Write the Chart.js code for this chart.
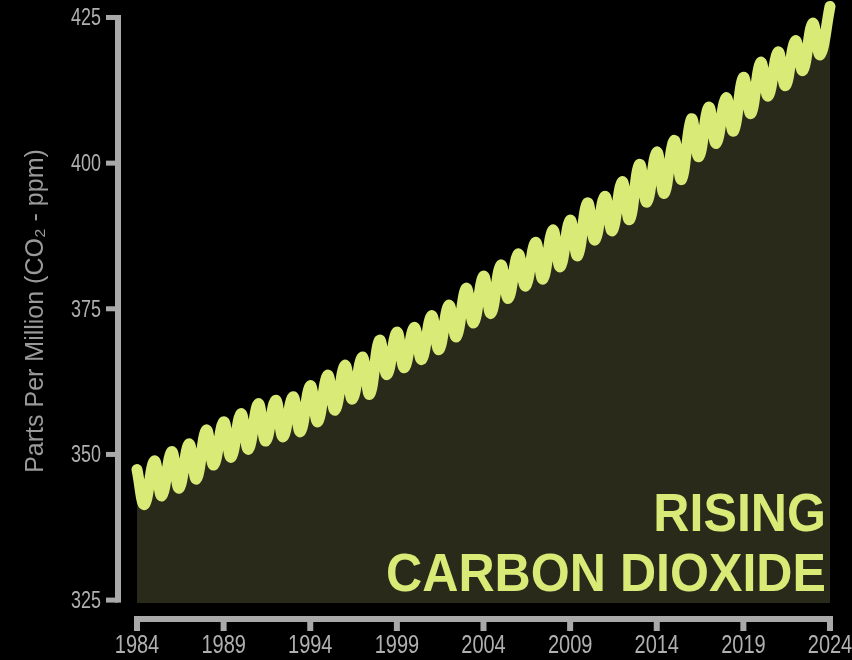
<!DOCTYPE html>
<html>
<head>
<meta charset="utf-8">
<script src="https://cdn.jsdelivr.net/npm/chart.js@4.4.1/dist/chart.umd.min.js"></script>
<style>
  html, body { margin: 0; padding: 0; background: #000; }
  #wrap { width: 852px; height: 660px; }
</style>
</head>
<body>
<div id="wrap"><canvas id="co2Chart" width="852" height="660"></canvas></div>
<script>
// Mauna Loa style seasonal cycle: yearly high (May) and low (Sep/Oct)
const years = [1984, 1985, 1986, 1987, 1988, 1989, 1990, 1991, 1992, 1993,
  1994, 1995, 1996, 1997, 1998, 1999, 2000, 2001, 2002, 2003,
  2004, 2005, 2006, 2007, 2008, 2009, 2010, 2011, 2012, 2013,
  2014, 2015, 2016, 2017, 2018, 2019, 2020, 2021, 2022, 2023, 2024];
const mayHighs = [347.4, 348.9, 350.5, 351.8, 354.2, 355.6, 357.0, 358.7, 359.3, 359.9,
  361.8, 363.6, 365.3, 366.7, 369.6, 371.0, 371.8, 373.8, 375.6, 378.5,
  380.6, 382.5, 384.4, 386.4, 388.5, 390.2, 393.2, 394.3, 396.8, 399.8,
  401.9, 403.9, 407.6, 409.6, 411.2, 414.7, 417.3, 419.1, 421.0, 424.0, 426.9];
const autumnLows = [341.4, 342.9, 344.2, 345.8, 348.2, 349.5, 350.9, 352.3, 353.0, 353.9,
  355.6, 357.6, 359.5, 360.3, 363.7, 364.9, 366.3, 368.0, 370.2, 372.6,
  374.2, 376.8, 378.9, 380.1, 382.2, 384.1, 386.8, 388.4, 390.3, 393.3,
  394.8, 397.2, 401.1, 403.4, 405.5, 408.5, 411.5, 413.3, 415.9, 418.6];
const yTicks = [325, 350, 375, 400, 425];
const xTickLabels = ['1984', '1989', '1994', '1999', '2004', '2009', '2014', '2019', '2024'];

const HIGH_AT = 0.37;   // fraction of year for the May high
const LOW_AT = 0.8;     // fraction of year for the autumn low

const points = [];
years.forEach((yr, i) => {
  points.push({ x: yr + HIGH_AT, y: mayHighs[i] });
  if (i < autumnLows.length) points.push({ x: yr + LOW_AT, y: autumnLows[i] });
});
const xStart = points[0].x;
const xEnd = points[points.length - 1].x;

const LINE = '#d9ea76';
const AXIS = '#a9a9a9';
const LABEL = '#b0b0b0';

const bgPlugin = {
  id: 'bg',
  beforeDraw(chart) {
    const ctx = chart.ctx;
    ctx.save();
    ctx.fillStyle = '#000';
    ctx.fillRect(0, 0, chart.width, chart.height);
    ctx.restore();
  }
};

// narrow text: squeeze a normal face horizontally
function narrowText(ctx, text, x, y, align, squeeze) {
  ctx.save();
  ctx.translate(x, y);
  ctx.scale(squeeze, 1);
  ctx.textAlign = align;
  ctx.fillText(text, 0, 0);
  ctx.restore();
}

// the grey bracket axes, set off from the plot area, with their labels
const axisPlugin = {
  id: 'bracketAxes',
  afterDraw(chart) {
    const { ctx, scales: { x, y } } = chart;
    ctx.save();
    ctx.fillStyle = AXIS;
    const yTop = y.getPixelForValue(yTicks[yTicks.length - 1]);
    const yBot = y.getPixelForValue(yTicks[0]);
    ctx.fillRect(115, yTop - 2.5, 6, yBot - yTop + 5);
    yTicks.forEach(v => {
      const p = y.getPixelForValue(v);
      ctx.fillRect(106, p - 2.5, 12, 5);
    });
    const xl = x.getPixelForValue(x.ticks[0].value);
    const xr = x.getPixelForValue(x.ticks[x.ticks.length - 1].value);
    ctx.fillRect(xl - 3, 616, xr - xl + 6, 6);
    x.ticks.forEach(t => {
      const p = x.getPixelForValue(t.value);
      ctx.fillRect(p - 3, 616, 6, 15);
    });

    ctx.fillStyle = LABEL;
    ctx.textBaseline = 'alphabetic';
    ctx.font = "23px 'Liberation Sans', Arial, sans-serif";
    y.ticks.forEach(t => {
      narrowText(ctx, String(t.value), 101, y.getPixelForValue(t.value) + 8, 'right', 0.78);
    });
    ctx.font = "25px 'Liberation Sans', Arial, sans-serif";
    x.ticks.forEach((t, i) => {
      narrowText(ctx, xTickLabels[i], x.getPixelForValue(t.value), 653, 'center', 0.8);
    });

    // axis title
    ctx.fillStyle = '#9a9a9a';
    ctx.font = "25px 'Liberation Sans', Arial, sans-serif";
    ctx.translate(43, 311);
    ctx.rotate(-Math.PI / 2);
    ctx.textAlign = 'center';
    ctx.fillText('Parts Per Million (CO₂ - ppm)', 0, 0);
    ctx.restore();
  }
};

const labelPlugin = {
  id: 'bigLabel',
  afterDatasetsDraw(chart) {
    const ctx = chart.ctx;
    ctx.save();
    ctx.fillStyle = LINE;
    ctx.font = "bold 54px 'Liberation Sans', Arial, sans-serif";
    ctx.textBaseline = 'alphabetic';
    ctx.textAlign = 'right';
    const w = ctx.measureText('CARBON DIOXIDE').width;
    const sx = 440 / w;
    ctx.translate(826, 0);
    ctx.scale(sx, 1);
    ctx.fillText('RISING', 0, 531);
    ctx.fillText('CARBON DIOXIDE', 0, 591);
    ctx.restore();
  }
};

function noPad(s) {
  s.paddingTop = 0; s.paddingBottom = 0; s.paddingLeft = 0; s.paddingRight = 0;
}

new Chart(document.getElementById('co2Chart').getContext('2d'), {
  type: 'line',
  data: {
    datasets: [{
      label: 'CO2',
      data: points,
      borderColor: LINE,
      borderWidth: 11,
      borderCapStyle: 'round',
      borderJoinStyle: 'round',
      backgroundColor: '#292a1a',
      fill: 'start',
      pointRadius: 0,
      tension: 0.4,
      clip: false
    }]
  },
  options: {
    responsive: false,
    animation: false,
    devicePixelRatio: 1,
    layout: { padding: { left: 0, right: 22, top: 0, bottom: 0 } },
    plugins: { legend: { display: false }, tooltip: { enabled: false } },
    scales: {
      x: {
        type: 'linear',
        min: xStart,
        max: xEnd,
        grid: { display: false, drawTicks: false },
        border: { display: false },
        afterBuildTicks: s => { s.ticks = xTickLabels.map((_, i) => ({ value: xStart + 5 * i })); },
        afterFit: s => { s.height = 57; noPad(s); },
        ticks: { display: false }
      },
      y: {
        min: 324.5,
        max: 428,
        grid: { display: false, drawTicks: false },
        border: { display: false },
        afterBuildTicks: s => { s.ticks = yTicks.map(v => ({ value: v })); },
        afterFit: s => { s.width = 137; noPad(s); },
        ticks: { display: false }
      }
    }
  },
  plugins: [bgPlugin, axisPlugin, labelPlugin]
});
</script>
</body>
</html>
